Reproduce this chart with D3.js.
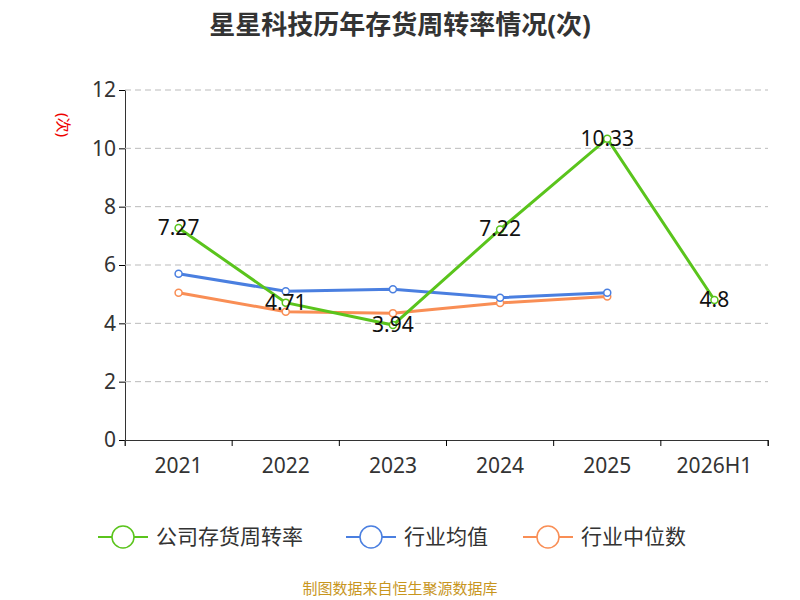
<!DOCTYPE html><html><head><meta charset="utf-8"><script src="https://cdn.jsdelivr.net/npm/d3@7"></script>
<style>body{margin:0;background:#fff}text{font-family:"Noto Sans","Noto Sans CJK SC",sans-serif}</style></head><body>
<svg id="c" width="800" height="600"></svg>
<script>
const categories=["2021","2022","2023","2024","2025","2026H1"];
const company=[7.27,4.71,3.94,7.22,10.33,4.8];
const industryAvg=[5.7,5.1,5.17,4.88,5.05];
const industryMedian=[5.05,4.4,4.35,4.7,4.92];
const yTicks=[0,2,4,6,8,10,12];
const svg=d3.select("#c");
const x=d3.scaleBand().domain(categories).range([125,768]);
const y=d3.scaleLinear().domain([0,12]).range([440,90]);
const cx=d=>x(d)+x.bandwidth()/2;
svg.append("text").attr("x",400).attr("y",34).attr("text-anchor","middle").attr("font-size",26).attr("font-weight","bold").attr("fill","#333").text("星星科技历年存货周转率情况(次)");
const gy=svg.append("g").attr("transform","translate(125,0)").call(d3.axisLeft(y).tickValues(yTicks).tickSize(6));
gy.select(".domain").attr("stroke","#333");gy.selectAll("text").attr("font-size",21).attr("fill","#333");
svg.append("g").selectAll("line").data(yTicks.filter(t=>t>0)).join("line").attr("x1",125).attr("x2",768).attr("y1",d=>y(d)).attr("y2",d=>y(d)).attr("stroke","#bbb").attr("stroke-dasharray","6,4");
const gx=svg.append("g").attr("transform","translate(0,440)").call(d3.axisBottom(x).tickSize(6).tickSizeOuter(6));
gx.select(".domain").attr("stroke","#333");gx.selectAll("text").attr("font-size",21).attr("fill","#333").attr("dy","1.15em");
gx.selectAll(".tick line").attr("transform",`translate(${x.bandwidth()/2},0)`);
svg.append("line").attr("x1",125).attr("x2",125).attr("y1",440).attr("y2",446).attr("stroke","#333");
svg.append("text").attr("transform","translate(58,125) rotate(90)").attr("text-anchor","middle").attr("font-size",15).attr("fill","#e00").text("(次)");
const series=[{n:"行业中位数",d:industryMedian,c:"#f98e55"},{n:"行业均值",d:industryAvg,c:"#4a7fe0"},{n:"公司存货周转率",d:company,c:"#5ac41c"}];
const line=d3.line().x((d,i)=>cx(categories[i])).y(d=>y(d));
series.forEach(s=>{
svg.append("path").attr("d",line(s.d)).attr("fill","none").attr("stroke",s.c).attr("stroke-width",3);
svg.append("g").selectAll("circle").data(s.d).join("circle").attr("cx",(d,i)=>cx(categories[i])).attr("cy",d=>y(d)).attr("r",3.5).attr("fill","#fff").attr("stroke",s.c).attr("stroke-width",1.5);
});
svg.append("g").selectAll("text").data(company).join("text").attr("x",(d,i)=>cx(categories[i])).attr("y",d=>y(d)+7).attr("text-anchor","middle").attr("font-size",21).attr("fill","#111").text(d=>d);
const leg=[{n:"公司存货周转率",c:"#5ac41c",x:98},{n:"行业均值",c:"#4a7fe0",x:346},{n:"行业中位数",c:"#f98e55",x:523}];
leg.forEach(l=>{const g=svg.append("g");
g.append("line").attr("x1",l.x).attr("x2",l.x+50).attr("y1",537).attr("y2",537).attr("stroke",l.c).attr("stroke-width",2);
g.append("circle").attr("cx",l.x+25).attr("cy",537).attr("r",11).attr("fill","#fff").attr("stroke",l.c).attr("stroke-width",1.5);
g.append("text").attr("x",l.x+58).attr("y",544).attr("font-size",21).attr("fill","#333").text(l.n);});
svg.append("text").attr("x",400).attr("y",594).attr("text-anchor","middle").attr("font-size",15).attr("fill","#c8961e").text("制图数据来自恒生聚源数据库");
</script></body></html>
